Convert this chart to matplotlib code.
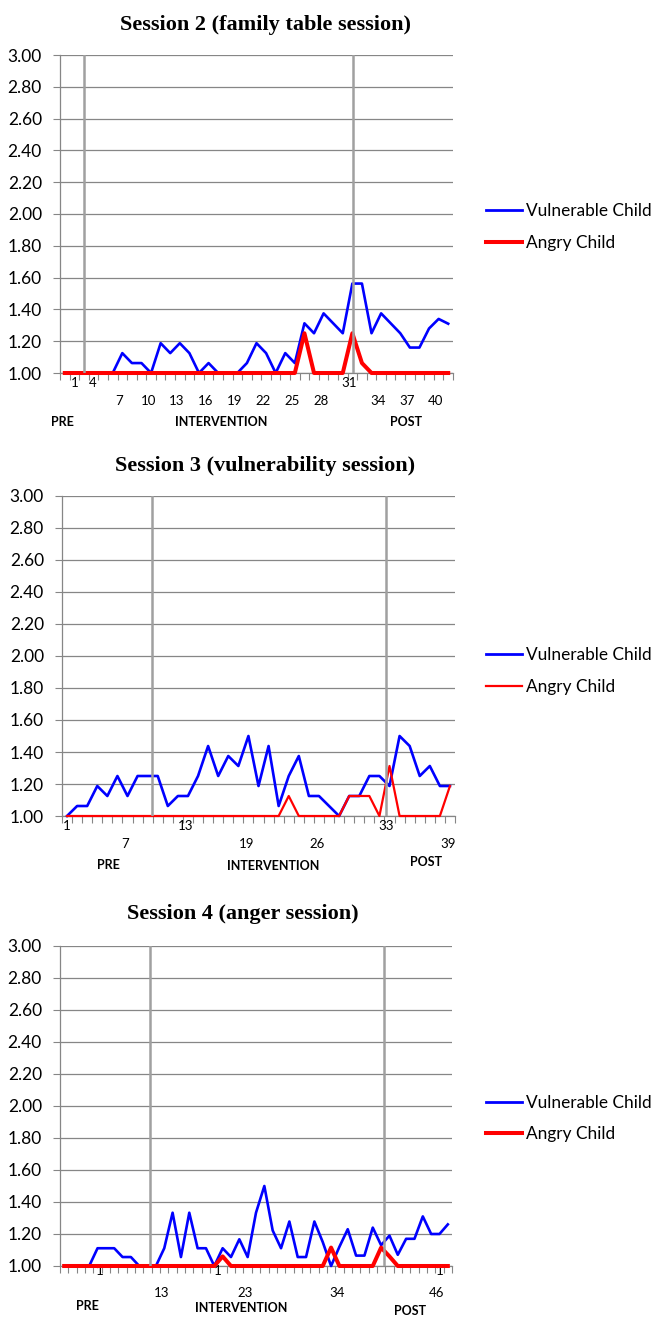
import matplotlib
matplotlib.use("Agg")
import matplotlib.pyplot as plt
from matplotlib.lines import Line2D
import numpy as np

W, H = 655, 1317

# Session 2 (family table session)
s2_vulnerable = [1.00, 1.00, 1.00, 1.00, 1.00, 1.00, 1.125, 1.0625, 1.0625, 1.00,
                 1.1875, 1.125, 1.1875, 1.125, 1.00, 1.0625, 1.00, 1.00, 1.00, 1.0625,
                 1.1875, 1.125, 1.00, 1.125, 1.0625, 1.3125, 1.25, 1.375, 1.3125, 1.25,
                 1.5625, 1.5625, 1.25, 1.375, 1.3125, 1.25, 1.16, 1.16, 1.28, 1.34, 1.31]
s2_angry = [1.00] * 25 + [1.25] + [1.00] * 4 + [1.25, 1.0625] + [1.00] * 9
s2_phase_lines = [2.0, 30.1]
s2_upper = [("1", 1.06), ("4", 2.94), ("31", 29.65)]
s2_lower = [7, 10, 13, 16, 19, 22, 25, 28, 34, 37, 40]

# Session 3 (vulnerability session)
s3_vulnerable = [1.00, 1.0625, 1.0625, 1.1875, 1.125, 1.25, 1.125, 1.25, 1.25, 1.25,
                 1.0625, 1.125, 1.125, 1.25, 1.4375, 1.25, 1.375, 1.3125, 1.50, 1.1875,
                 1.4375, 1.0625, 1.25, 1.375, 1.125, 1.125, 1.0625, 1.00, 1.125, 1.125,
                 1.25, 1.25, 1.1875, 1.50, 1.4375, 1.25, 1.3125, 1.1875, 1.1875]
s3_angry = [1.00] * 22 + [1.125] + [1.00] * 5 + [1.125, 1.125, 1.125, 1.00, 1.3125] + [1.00] * 5 + [1.1875]
s3_phase_lines = [8.4, 31.65]
s3_upper = [("1", -0.03), ("13", 11.77), ("33", 31.7)]
s3_lower = [7, 19, 26, 39]

# Session 4 (anger session)
s4_vulnerable = [1.00, 1.00, 1.00, 1.00, 1.111, 1.111, 1.111, 1.056, 1.056, 1.00,
                 1.00, 1.00, 1.111, 1.333, 1.056, 1.333, 1.111, 1.111, 1.00, 1.111,
                 1.056, 1.167, 1.056, 1.333, 1.50, 1.222, 1.111, 1.278, 1.056, 1.056,
                 1.278, 1.15, 1.00, 1.12, 1.23, 1.065, 1.065, 1.24, 1.13, 1.19,
                 1.07, 1.17, 1.17, 1.31, 1.20, 1.20, 1.26]
s4_angry = [1.00] * 19 + [1.06] + [1.00] * 12 + [1.115] + [1.00] * 5 + [1.115, 1.06] + [1.00] * 7
s4_phase_lines = [10.3, 38.4]
s4_upper = [("1", 4.3), ("1", 18.4), ("1", 45.06)]
s4_lower = [13, 23, 34, 46]

plt.rcParams['font.family'] = ['Lato', 'DejaVu Sans']

fig = plt.figure(figsize=(W / 100, H / 100), dpi=100)

GRID = '#868686'


def draw_panel(rect, vulnerable, angry, phase_lines, upper, lower, lower_shift,
               offs, phase_x, title, title_xy, legend_y, red_lw):
    ax = fig.add_axes([rect[0] / W, 1 - rect[3] / H, (rect[2] - rect[0]) / W, (rect[3] - rect[1]) / H])
    n = len(vulnerable)
    x = np.arange(n)
    ax.set_xlim(-0.5, n - 0.5)
    ax.set_ylim(1, 3)
    ticks = np.linspace(1, 3, 11)
    ax.set_yticks(ticks)
    ax.set_yticklabels(['%.2f' % t for t in ticks])
    ax.yaxis.grid(True, color=GRID, lw=0.9)
    ax.set_axisbelow(True)
    for s in ['top', 'right']:
        ax.spines[s].set_visible(False)
    for s in ['left', 'bottom']:
        ax.spines[s].set_color(GRID)
        ax.spines[s].set_linewidth(0.9)
    ax.set_xticks(np.arange(-0.5, n, 1))
    ax.tick_params(axis='x', length=5, color=GRID, labelbottom=False)
    ax.tick_params(axis='y', length=5, color=GRID, labelsize=12.5, pad=8)

    ax.plot(x, vulnerable, color='#0000ff', lw=1.9, clip_on=False, zorder=3)
    ax.plot(x, angry, color='#ff0000', lw=red_lw, clip_on=False, zorder=4)
    for v in phase_lines:
        ax.axvline(v, color='#a0a0a0', lw=1.8, zorder=5)

    for txt, pos in upper:
        ax.annotate(txt, xy=(pos, 0), xycoords=('data', 'axes fraction'), xytext=(0, offs[0]),
                    textcoords='offset pixels', ha='center', va='center', fontsize=9.5)
    for num in lower:
        ax.annotate(str(num), xy=(num - 1 - lower_shift, 0), xycoords=('data', 'axes fraction'),
                    xytext=(0, offs[1]), textcoords='offset pixels', ha='center', va='center',
                    fontsize=9.5)
    for (txt, fx), dy in zip(zip(['PRE', 'INTERVENTION', 'POST'], phase_x), offs[2]):
        ax.annotate(txt, xy=(fx, 0), xycoords='axes fraction', xytext=(0, dy),
                    textcoords='offset pixels', ha='center', va='center', fontsize=9,
                    fontweight='bold')

    fig.text(title_xy[0] / W, 1 - title_xy[1] / H, title, ha='center', va='center',
             fontfamily='Liberation Serif', fontweight='bold', fontsize=16)

    handles = [Line2D([], [], color='#0000ff', lw=2.0), Line2D([], [], color='#ff0000', lw=red_lw)]
    ax.legend(handles, ['Vulnerable Child', 'Angry Child'], loc='center left',
              bbox_to_anchor=(486 / W, 1 - legend_y / H), bbox_transform=fig.transFigure,
              frameon=False, fontsize=12.4, handlelength=2.1, handletextpad=0.22,
              labelspacing=0.9, borderpad=0, borderaxespad=0)
    return ax


draw_panel((60, 55, 453, 373), s2_vulnerable, s2_angry, s2_phase_lines, s2_upper, s2_lower, 0.3,
           (-10, -28, (-49, -49, -49)), (0.005, 0.41, 0.88),
           "Session 2 (family table session)", (265, 25), 227, 2.9)
draw_panel((62, 496, 455, 816), s3_vulnerable, s3_angry, s3_phase_lines, s3_upper, s3_lower, 0.2,
           (-10, -28, (-49, -50, -46)), (0.117, 0.537, 0.926),
           "Session 3 (vulnerability session)", (265, 466), 671, 1.6)
draw_panel((60, 946, 452, 1266), s4_vulnerable, s4_angry, s4_phase_lines, s4_upper, s4_lower, 0.3,
           (-5, -27, (-40, -42, -45)), (0.071, 0.462, 0.893),
           "Session 4 (anger session)", (243, 914), 1118.5, 2.9)

fig.savefig('out.png', dpi=100)
